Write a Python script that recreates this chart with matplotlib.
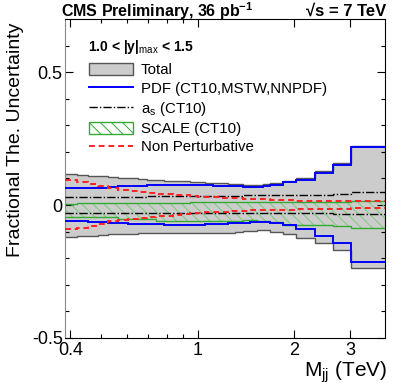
import matplotlib
matplotlib.use("Agg")
import matplotlib.pyplot as plt
from matplotlib.patches import Patch
from matplotlib.lines import Line2D
from matplotlib.ticker import FixedLocator, NullFormatter, FuncFormatter

rc = {"font.family": "Liberation Sans",
      "mathtext.fontset": "custom",
      "mathtext.rm": "Liberation Sans",
      "mathtext.it": "Liberation Sans:italic",
      "mathtext.bf": "Liberation Sans:bold",
      "hatch.linewidth": 0.7}
plt.rcParams.update(rc)

# dijet mass bin edges (TeV)
edges = [0.386, 0.419, 0.453, 0.489, 0.526, 0.565, 0.606, 0.649, 0.693, 0.740,
         0.788, 0.838, 0.890, 0.944, 1.000, 1.058, 1.118, 1.181, 1.246, 1.313,
         1.383, 1.455, 1.530, 1.607, 1.687, 1.856, 2.037, 2.332, 2.659, 3.019, 3.854]

tot_up = [0.118, 0.113, 0.110, 0.108, 0.104, 0.103, 0.100, 0.099, 0.095, 0.093,
          0.092, 0.091, 0.090, 0.087, 0.085, 0.084, 0.083, 0.082, 0.081, 0.078,
          0.077, 0.077, 0.077, 0.078, 0.083, 0.092, 0.103, 0.127, 0.157, 0.223]
tot_lo = [-0.122, -0.118, -0.115, -0.113, -0.111, -0.110, -0.109, -0.107, -0.106, -0.105,
          -0.105, -0.105, -0.106, -0.106, -0.106, -0.107, -0.107, -0.106, -0.104, -0.102,
          -0.099, -0.097, -0.095, -0.095, -0.102, -0.111, -0.126, -0.143, -0.170, -0.236]
pdf_up = [0.064, 0.064, 0.065, 0.066, 0.068, 0.070, 0.072, 0.073, 0.074, 0.075,
          0.076, 0.077, 0.077, 0.077, 0.076, 0.075, 0.073, 0.072, 0.071, 0.070,
          0.068, 0.067, 0.068, 0.070, 0.075, 0.085, 0.096, 0.121, 0.152, 0.219]
pdf_lo = [-0.062, -0.062, -0.063, -0.064, -0.066, -0.068, -0.070, -0.071, -0.072, -0.073,
          -0.074, -0.075, -0.075, -0.075, -0.074, -0.073, -0.072, -0.071, -0.069, -0.067,
          -0.066, -0.065, -0.065, -0.065, -0.066, -0.076, -0.089, -0.117, -0.144, -0.215]
as_up = [0.031, 0.031, 0.031, 0.031, 0.031, 0.032, 0.032, 0.032, 0.033, 0.033,
         0.033, 0.033, 0.034, 0.034, 0.035, 0.035, 0.035, 0.035, 0.035, 0.035,
         0.036, 0.036, 0.036, 0.036, 0.036, 0.036, 0.036, 0.036, 0.042, 0.048]
as_lo = [-0.030, -0.030, -0.030, -0.030, -0.030, -0.030, -0.030, -0.030, -0.030, -0.030,
         -0.030, -0.030, -0.030, -0.030, -0.030, -0.030, -0.030, -0.030, -0.030, -0.030,
         -0.030, -0.030, -0.030, -0.030, -0.030, -0.030, -0.031, -0.031, -0.032, -0.033]
scale_up = [0.004, 0.008, 0.008, 0.008, 0.008, 0.008, 0.008, 0.008, 0.008, 0.008,
            0.008, 0.008, 0.008, 0.013, 0.013, 0.013, 0.013, 0.013, 0.013, 0.013,
            0.013, 0.013, 0.013, 0.013, 0.013, 0.013, 0.013, 0.013, 0.013, 0.015]
scale_lo = [-0.044, -0.047, -0.047, -0.047, -0.047, -0.053, -0.053, -0.053, -0.053, -0.060,
            -0.060, -0.060, -0.062, -0.062, -0.062, -0.062, -0.062, -0.062, -0.062, -0.060,
            -0.058, -0.057, -0.059, -0.061, -0.065, -0.074, -0.077, -0.077, -0.079, -0.086]
np_up = [0.093, 0.088, 0.080, 0.072, 0.064, 0.058, 0.053, 0.049, 0.046, 0.043,
         0.040, 0.038, 0.036, 0.034, 0.032, 0.031, 0.029, 0.028, 0.027, 0.026,
         0.024, 0.023, 0.022, 0.021, 0.019, 0.018, 0.017, 0.016, 0.015, 0.014]
np_lo = [-0.092, -0.086, -0.079, -0.070, -0.062, -0.057, -0.053, -0.049, -0.046, -0.043,
         -0.040, -0.037, -0.034, -0.031, -0.029, -0.027, -0.026, -0.025, -0.023, -0.022,
         -0.021, -0.020, -0.019, -0.018, -0.017, -0.017, -0.016, -0.015, -0.014, -0.013]

x_major = [0.4, 1, 2, 3]
x_minor = [0.5, 0.6, 0.7, 0.8, 0.9]

gray = "#cccccc"
gray_edge = "#555555"
blue = "#0000ff"
green = "#33aa33"
green_hatch = "#77cc77"
red = "#ff2222"
np_dash = (3.0, 2.0)
as_dash = (6.0, 1.5, 1.0, 1.5)

fig = plt.figure(figsize=(4.06, 3.89), dpi=100)
ax = fig.add_axes([0.1613, 0.1319, 0.7862, 0.8185])

# total
ax.stairs(tot_up, edges, baseline=tot_lo, fill=True, facecolor=gray, edgecolor="none", zorder=1)
ax.stairs(tot_up, edges, baseline=None, color=gray_edge, lw=1.0, zorder=2)
ax.stairs(tot_lo, edges, baseline=None, color=gray_edge, lw=1.0, zorder=2)

# scale
ax.stairs(scale_up, edges, baseline=scale_lo, fill=True, facecolor="none",
          edgecolor=green_hatch, hatch="\\\\\\", lw=0, zorder=3)
ax.stairs(scale_up, edges, baseline=None, color=green, lw=1.0, zorder=4)
ax.stairs(scale_lo, edges, baseline=None, color=green, lw=1.0, zorder=4)

# pdf
ax.stairs(pdf_up, edges, baseline=None, color=blue, lw=1.4, zorder=5)
ax.stairs(pdf_lo, edges, baseline=None, color=blue, lw=1.4, zorder=5)

# alpha_s
ax.stairs(as_up, edges, baseline=None, color="black", lw=1.0, linestyle=(0, as_dash), zorder=6)
ax.stairs(as_lo, edges, baseline=None, color="black", lw=1.0, linestyle=(0, as_dash), zorder=6)

# non perturbative
ax.stairs(np_up, edges, baseline=None, color=red, lw=1.4, linestyle=(0, np_dash), zorder=7)
ax.stairs(np_lo, edges, baseline=None, color=red, lw=1.4, linestyle=(0, np_dash), zorder=7)

ax.set_xscale("log")
ax.set_xlim(edges[0], edges[-1])
ax.set_ylim(-0.5, 0.7)

ax.xaxis.set_major_locator(FixedLocator(x_major))
ax.xaxis.set_minor_locator(FixedLocator(x_minor))
ax.xaxis.set_major_formatter(FuncFormatter(lambda v, p: "%g" % v))
ax.xaxis.set_minor_formatter(NullFormatter())
ax.yaxis.set_major_locator(FixedLocator([-0.5, 0, 0.5]))
ax.yaxis.set_minor_locator(FixedLocator([-0.4, -0.3, -0.2, -0.1, 0.1, 0.2, 0.3, 0.4, 0.6]))
ax.yaxis.set_major_formatter(FuncFormatter(lambda v, p: "%g" % v))

ax.tick_params(which="both", direction="in", top=True, right=True, labelsize=13)
ax.tick_params(which="major", length=6, width=0.8)
ax.tick_params(which="minor", length=3.2, width=0.8)
ax.tick_params(axis="x", which="major", pad=3)
ax.tick_params(axis="y", which="major", pad=2)
ax.spines["left"].set_color("#888888")

ax.set_xlabel(r"M$_{\rm jj}$ (TeV)", fontsize=15, loc="right")
ax.xaxis.set_label_coords(1.007, -0.067)
ax.set_ylabel("Fractional The. Uncertainty", fontsize=14, loc="top")
ax.yaxis.set_label_coords(-0.13, 0.99)

fig.text(61 / 406, 1 - 11 / 389, r"CMS Preliminary, 36 pb$^{\mathbf{-1}}$",
         fontsize=11.5, fontweight="bold", va="center", ha="left")
fig.text(386 / 406, 1 - 11 / 389, "\u221as = 7 TeV",
         fontsize=12, fontweight="bold", va="center", ha="right")

# rapidity bin header
ax.text(0.0705, 0.914, r"1.0 < |y|$_{\rm max}$ < 1.5", transform=ax.transAxes,
        fontsize=10, fontweight="bold", ha="left", va="center")

handles = [Patch(facecolor=gray, edgecolor=gray_edge, lw=1.0),
           Line2D([], [], color=blue, lw=1.4),
           Line2D([], [], color="black", lw=1.0, linestyle=(0, as_dash)),
           Patch(facecolor="none", edgecolor=green, hatch="\\\\\\", lw=1.0),
           Line2D([], [], color=red, lw=1.4, linestyle=(0, np_dash))]
labels = ["Total", "PDF (CT10,MSTW,NNPDF)", r"a$_{\rm s}$ (CT10)",
          "SCALE (CT10)", "Non Perturbative"]
leg = ax.legend(handles, labels, loc="upper left", bbox_to_anchor=(0.0746, 0.862),
                frameon=False, fontsize=10.8, borderpad=0, borderaxespad=0,
                handlelength=2.9, handleheight=0.85, handletextpad=0.55,
                labelspacing=0.27)

fig.savefig("out.png", dpi=100)
